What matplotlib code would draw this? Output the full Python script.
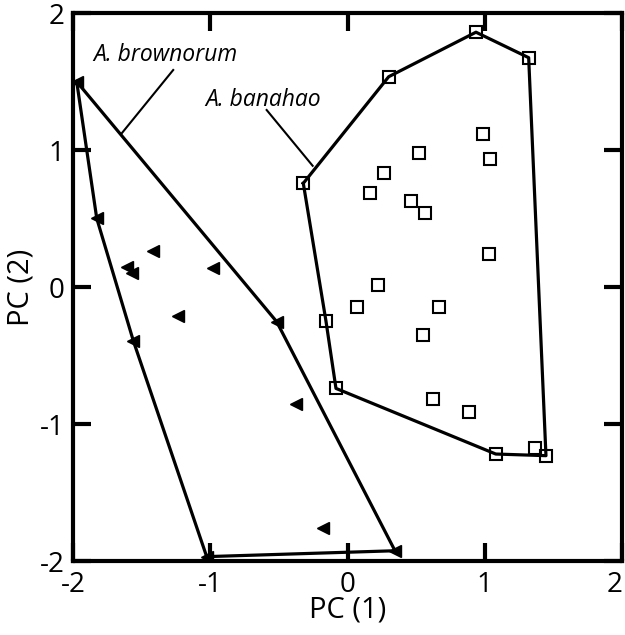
import matplotlib
matplotlib.use("Agg")
import matplotlib.pyplot as plt

plt.rcParams['font.family'] = ['Open Sans', 'DejaVu Sans']
plt.rcParams['axes.unicode_minus'] = False

# A. banahao (open squares)
ban_x = [0.30, 0.936, 1.32, 0.985, 1.04, 0.519, 0.266, 0.164, 0.463, 0.565, 1.03, 0.222, -0.322,
         0.067, 0.667, -0.157, 0.552, -0.084, 0.62, 0.883, 1.08, 1.368, 1.446]
ban_y = [1.535, 1.86, 1.674, 1.12, 0.937, 0.976, 0.832, 0.684, 0.63, 0.538, 0.241, 0.012, 0.757,
         -0.148, -0.148, -0.248, -0.348, -0.74, -0.82, -0.915, -1.219, -1.178, -1.231]
# hull, as indices into the banahao lists
ban_hull = [12, 0, 1, 2, 22, 20, 17, 15, 12]

# A. brownorum (filled left triangles)
bro_x = [-1.973, -1.827, -1.415, -1.609, -1.572, -0.978, -1.233, -1.56, -0.516, -0.375, -0.176, -1.026, 0.346]
bro_y = [1.499, 0.501, 0.265, 0.148, 0.10, 0.136, -0.209, -0.394, -0.253, -0.856, -1.761, -1.968, -1.925]
bro_hull = [0, 8, 12, 11, 7, 1, 0]

ticks = [-2, -1, 0, 1, 2]

fig = plt.figure(figsize=(6.25, 6.35), dpi=100)
ax = fig.add_axes([0.1168, 0.1165, 0.8784, 0.863])

ax.plot([ban_x[i] for i in ban_hull], [ban_y[i] for i in ban_hull], color='black', lw=2.3, zorder=2)
ax.plot([bro_x[i] for i in bro_hull], [bro_y[i] for i in bro_hull], color='black', lw=2.3, zorder=2)
ax.plot(ban_x, ban_y, ls='none', marker='s', ms=8.5, mfc='none', mec='black', mew=1.5, zorder=3)
ax.plot(bro_x, bro_y, ls='none', marker='<', ms=8, color='black', zorder=3)

# labels with leader lines
ax.text(-1.854, 1.693, 'A. brownorum', style='italic', fontsize=16.5, va='center', ha='left')
ax.plot([-1.27, -1.645], [1.584, 1.122], color='black', lw=1.5)
ax.text(-1.038, 1.365, 'A. banahao', style='italic', fontsize=16.5, va='center', ha='left')
ax.plot([-0.589, -0.254], [1.292, 0.885], color='black', lw=1.5)

ax.set_xlim(-2, 2)
ax.set_ylim(-2, 2)
ax.set_xticks(ticks)
ax.set_yticks(ticks)
ax.tick_params(direction='in', length=13, width=3, labelsize=20, pad=6,
               top=True, right=True)
ax.tick_params(axis='x', pad=7)
ax.get_xticklabels()[-1].set_ha('right')
for s in ax.spines.values():
    s.set_linewidth(3)
ax.set_xlabel('PC (1)', fontsize=21, labelpad=-2)
ax.set_ylabel('PC (2)', fontsize=21, labelpad=3)

fig.savefig('out.png', dpi=100)
